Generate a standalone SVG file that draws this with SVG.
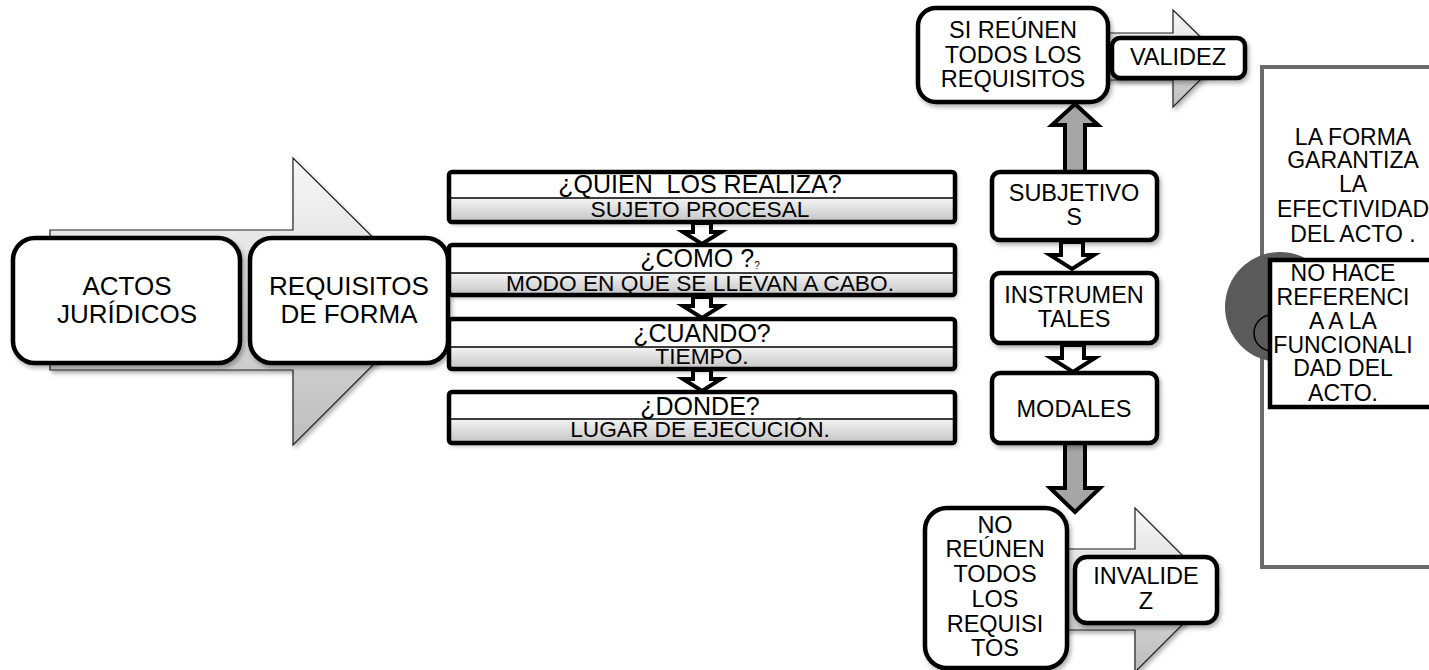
<svg xmlns="http://www.w3.org/2000/svg" width="1429" height="670" viewBox="0 0 1429 670">
<defs>
<linearGradient id="gArrow" x1="0" y1="0" x2="0" y2="1"><stop offset="0" stop-color="#f7f7f7"/><stop offset="1" stop-color="#bdbdbd"/></linearGradient>
<linearGradient id="gBand" x1="0" y1="0" x2="0" y2="1"><stop offset="0" stop-color="#f4f4f4"/><stop offset="1" stop-color="#c4c4c4"/></linearGradient>
<filter id="sh" x="-10%" y="-10%" width="130%" height="140%"><feDropShadow dx="2" dy="3" stdDeviation="2" flood-color="#000" flood-opacity="0.3"/></filter>
</defs>
<style>
text{font-family:"Liberation Sans",Arial,sans-serif;fill:#000;text-anchor:middle}
.big{font-size:26px}
.mid{font-size:23.5px}
.q{font-size:25px}
.a{font-size:22.7px}
.p{font-size:23px}
.box{fill:#fff;stroke:#000;stroke-width:4.5}
.bigArrow{fill:url(#gArrow);stroke:#222;stroke-width:1.2}
.hollow{fill:#fff;stroke:#000;stroke-width:4;stroke-linejoin:miter}
.grayArr{fill:#a6a6a6;stroke:#000;stroke-width:4}
.band{fill:url(#gBand)}
</style>
<rect width="1429" height="670" fill="#fff"/>

<g id="connectors">
<path class="bigArrow" filter="url(#sh)" d="M50,230 H293 V158 L437,301 L293,445 V370 H50 Z"/>
<path class="bigArrow" filter="url(#sh)" d="M1100,33 H1173 V10 L1222,58 L1173,107 V80 H1100 Z"/>
<path class="bigArrow" filter="url(#sh)" d="M1050,549 H1135 V508 L1217,590 L1135,672 V630 H1050 Z"/>
<path class="hollow" d="M693,223 H711 V232 H721 L702,244 L683,232 H693 Z"/>
<path class="hollow" d="M693,297 H711 V306 H721 L702,318 L683,306 H693 Z"/>
<path class="hollow" d="M693,370 H711 V379 H721 L702,391 L683,379 H693 Z"/>
<path class="hollow" d="M1061,242 H1083 V255 H1094 L1072,269 L1050,255 H1061 Z"/>
<path class="hollow" d="M1062,345 H1084 V358 H1095 L1073,372 L1051,358 H1062 Z"/>
<path class="grayArr" d="M1065,172 V125 H1052 L1075,104 L1098,125 H1085 V172 Z"/>
<path class="grayArr" d="M1065,443 V488 H1050 L1075,512 L1100,488 H1085 V443 Z"/>
</g>

<g id="actos">
<rect class="box" filter="url(#sh)" x="13" y="238" width="227" height="125" rx="22"/>
<text class="big" x="127" y="295">ACTOS</text>
<text class="big" x="127" y="323">JURÍDICOS</text>
</g>
<g id="requisitos">
<rect class="box" filter="url(#sh)" x="250" y="238" width="198" height="125" rx="22"/>
<text class="big" x="349" y="295">REQUISITOS</text>
<text class="big" x="349" y="323">DE FORMA</text>
</g>

<g id="quien">
<rect x="449" y="172" width="506" height="50" fill="#fff" filter="url(#sh)"/>
<rect class="band" x="449" y="198" width="506" height="24"/>
<text class="q" x="700" y="193" xml:space="preserve">¿QUIÉN  LOS REALIZA?</text>
<text class="a" x="700" y="217">SUJETO PROCESAL</text>
<line x1="449" y1="198" x2="955" y2="198" stroke="#000" stroke-width="1.5"/>
<rect x="449" y="172" width="506" height="50" rx="3" fill="none" stroke="#000" stroke-width="4.5"/>
</g>
<g id="como">
<rect x="449" y="245" width="506" height="50" fill="#fff" filter="url(#sh)"/>
<rect class="band" x="449" y="273" width="506" height="22"/>
<text class="q" x="700" y="267">¿COMO ?<tspan style="font-size:10px" dy="2">?</tspan></text>
<text class="a" x="700" y="291">MODO EN QUE SE LLEVAN A CABO.</text>
<line x1="449" y1="273" x2="955" y2="273" stroke="#000" stroke-width="1.5"/>
<rect x="449" y="245" width="506" height="50" rx="3" fill="none" stroke="#000" stroke-width="4.5"/>
</g>
<g id="cuando">
<rect x="449" y="319" width="506" height="50" fill="#fff" filter="url(#sh)"/>
<rect class="band" x="449" y="347" width="506" height="22"/>
<text class="q" x="702" y="342">¿CUANDO?</text>
<text class="a" x="702" y="364">TIEMPO.</text>
<line x1="449" y1="347" x2="955" y2="347" stroke="#000" stroke-width="1.5"/>
<rect x="449" y="319" width="506" height="50" rx="3" fill="none" stroke="#000" stroke-width="4.5"/>
</g>
<g id="donde">
<rect x="449" y="392" width="506" height="51" fill="#fff" filter="url(#sh)"/>
<rect class="band" x="449" y="419" width="506" height="24"/>
<text class="q" x="700" y="415">¿DONDE?</text>
<text class="a" x="700" y="437">LUGAR DE EJECUCIÓN.</text>
<line x1="449" y1="419" x2="955" y2="419" stroke="#000" stroke-width="1.5"/>
<rect x="449" y="392" width="506" height="51" rx="3" fill="none" stroke="#000" stroke-width="4.5"/>
</g>

<g id="si-reunen">
<rect class="box" filter="url(#sh)" x="918" y="8" width="190" height="94" rx="18"/>
<text class="mid" x="1013" y="38">SI REÚNEN</text>
<text class="mid" x="1013" y="63">TODOS LOS</text>
<text class="mid" x="1013" y="87">REQUISITOS</text>
</g>
<g id="validez">
<rect class="box" filter="url(#sh)" x="1112" y="38" width="133" height="40" rx="8"/>
<text class="mid" x="1178" y="65">VALIDEZ</text>
</g>
<g id="subjetivos">
<rect class="box" filter="url(#sh)" x="992" y="172" width="165" height="68" rx="8"/>
<text class="mid" x="1074" y="201">SUBJETIVO</text>
<text class="mid" x="1074" y="225">S</text>
</g>
<g id="instrumentales">
<rect class="box" filter="url(#sh)" x="992" y="273" width="165" height="70" rx="8"/>
<text class="mid" x="1074" y="303">INSTRUMEN</text>
<text class="mid" x="1074" y="327">TALES</text>
</g>
<g id="modales">
<rect class="box" filter="url(#sh)" x="992" y="373" width="165" height="70" rx="8"/>
<text class="mid" x="1074" y="417">MODALES</text>
</g>
<g id="no-reunen">
<rect class="box" filter="url(#sh)" x="925" y="508" width="142" height="160" rx="22"/>
<text class="mid" x="995" y="533">NO</text>
<text class="mid" x="995" y="557">REÚNEN</text>
<text class="mid" x="995" y="582">TODOS</text>
<text class="mid" x="995" y="607">LOS</text>
<text class="mid" x="995" y="632">REQUISI</text>
<text class="mid" x="995" y="656">TOS</text>
</g>
<g id="invalidez">
<rect class="box" filter="url(#sh)" x="1075" y="557" width="142" height="66" rx="12"/>
<text class="mid" x="1146" y="584">INVALIDE</text>
<text class="mid" x="1146" y="609">Z</text>
</g>

<g id="panel">
<rect x="1262" y="67" width="190" height="500" fill="#fff" stroke="#6b6b6b" stroke-width="4"/>
<text class="p" x="1353" y="145">LA FORMA</text>
<text class="p" x="1353" y="168">GARANTIZA</text>
<text class="p" x="1353" y="192">LA</text>
<text class="p" x="1353" y="217">EFECTIVIDAD</text>
<text class="p" x="1353" y="242">DEL ACTO .</text>
</g>
<g id="circles">
<circle cx="1280" cy="307" r="55" fill="#5a5a5a"/>
<circle cx="1272" cy="333" r="18" fill="#5a5a5a" stroke="#000" stroke-width="1.5"/>
</g>
<g id="no-hace">
<rect x="1270" y="260" width="180" height="147" fill="#fff"/>
<text class="p" x="1343" y="281">NO HACE</text>
<text class="p" x="1343" y="305">REFERENCI</text>
<text class="p" x="1343" y="329">A A LA</text>
<text class="p" x="1343" y="353">FUNCIONALI</text>
<text class="p" x="1343" y="376">DAD DEL</text>
<text class="p" x="1343" y="401">ACTO.</text>
<rect x="1270" y="260" width="180" height="147" fill="none" stroke="#000" stroke-width="4.5"/>
</g>
</svg>
